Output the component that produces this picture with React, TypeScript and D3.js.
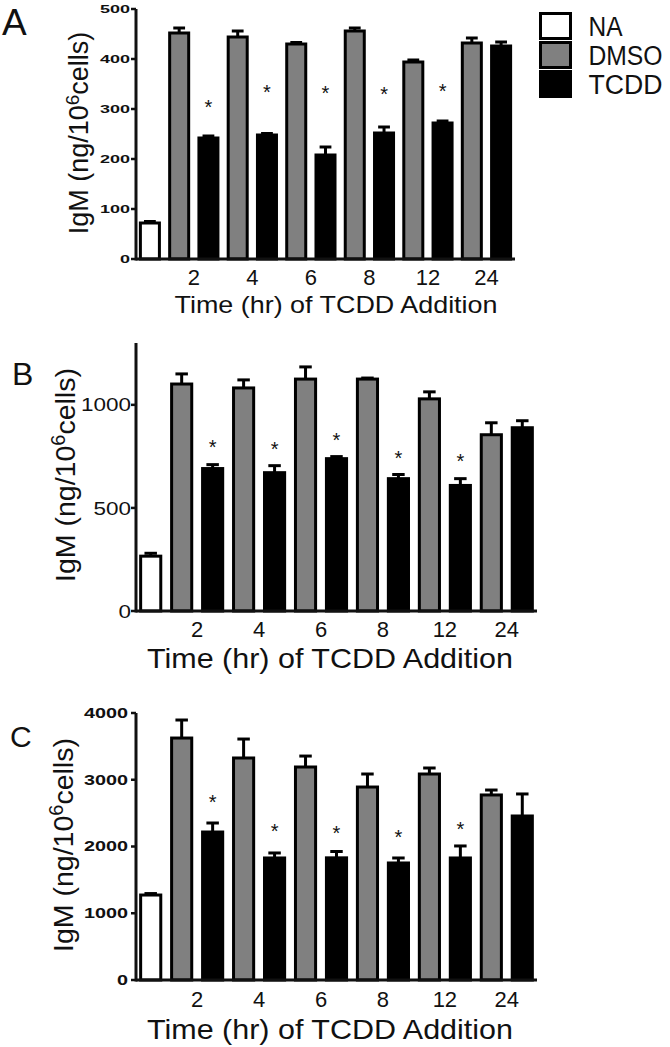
import React from "react";
import * as d3 from "d3";

// values (IgM, ng/10^6 cells)
const timeLabels = ["2", "4", "6", "8", "12", "24"];
const seriesNames = ["NA", "DMSO", "TCDD"];
const seriesFill: Record<string, string> = { NA: "#ffffff", DMSO: "#808080", TCDD: "#000000" };

const naValues = [72, 266, 1273];
const naErrors = [3, 14, 22];

const dmsoA = [452, 444, 430, 456, 394, 432];
const dmsoErrA = [10, 12, 3, 6, 4, 10];
const tcddA = [242, 248, 208, 252, 272, 426];
const tcddErrA = [4, 3, 16, 12, 4, 8];
const starsA = [312, 342, 340, 338, 344];

const dmsoB = [1101, 1082, 1125, 1125, 1029, 855];
const dmsoErrB = [49, 39, 59, 5, 34, 58];
const tcddB = [691, 671, 739, 642, 609, 889];
const tcddErrB = [19, 34, 10, 20, 33, 34];
const starsB = [816, 807, 850, 763, 749];

const dmsoC = [3625, 3326, 3191, 2891, 3086, 2772];
const dmsoErrC = [270, 284, 164, 195, 90, 74];
const tcddC = [2217, 1828, 1830, 1753, 1828, 2457];
const tcddErrC = [135, 75, 95, 75, 180, 330];
const starsC = [2727, 2292, 2262, 2202, 2322];

const yTicksA = [0, 100, 200, 300, 400, 500];
const yTicksB = [0, 500, 1000];
const yTicksC = [0, 1000, 2000, 3000, 4000];

const FONT = "'Liberation Sans', Arial, Helvetica, sans-serif";
const INK = "#111";

function Panel({ cfg, na, naErr, dmso, dmsoErr, tcdd, tcddErr, stars, ticks, yMax }: any) {
  const bars: any[] = [{ s: "NA", v: na, e: naErr }];
  timeLabels.forEach((t, i) => {
    bars.push({ s: "DMSO", v: dmso[i], e: dmsoErr[i], t });
    bars.push({ s: "TCDD", v: tcdd[i], e: tcddErr[i], t });
  });

  const x = d3.scaleBand<number>()
    .domain(d3.range(bars.length))
    .range([cfg.x0, cfg.x1])
    .paddingInner(0.35)
    .paddingOuter(0.15);
  const y = d3.scaleLinear().domain([0, yMax]).range([cfg.y0, cfg.yTop]);
  const bw = x.bandwidth();
  const cx = (i: number) => (x(i) as number) + bw / 2;

  return (
    <g>
      <text x={cfg.letterX} y={cfg.letterY} fontSize={cfg.letterSize} fontFamily={FONT} fill={INK}>
        {cfg.letter}
      </text>

      {/* bars + error bars */}
      {bars.map((b, i) => {
        const capW = bw * 0.62;
        return (
          <g key={i}>
            <rect x={x(i)} y={y(b.v)} width={bw} height={cfg.y0 - y(b.v)}
              fill={seriesFill[b.s]} stroke="#000" strokeWidth={3} />
            <line x1={cx(i)} x2={cx(i)} y1={y(b.v)} y2={y(b.v + b.e)} stroke="#000" strokeWidth={3} />
            <line x1={cx(i) - capW / 2} x2={cx(i) + capW / 2} y1={y(b.v + b.e)} y2={y(b.v + b.e)}
              stroke="#000" strokeWidth={3} />
          </g>
        );
      })}

      {/* significance */}
      {stars.map((s: number, k: number) => (
        <text key={k} x={cx(2 + k * 2)} y={y(s) + 11} textAnchor="middle" fontSize={20}
          fontFamily={FONT} fill={INK}>*</text>
      ))}

      {/* axes */}
      <line x1={cfg.x0} x2={cfg.x0} y1={cfg.y0 + 1.5} y2={cfg.yTop} stroke={INK} strokeWidth={3} />
      <line x1={cfg.x0} x2={cfg.x1} y1={cfg.y0} y2={cfg.y0} stroke={INK} strokeWidth={3} />
      {ticks.map((t: number) => {
        const label = String(t);
        return (
          <g key={t}>
            <line x1={cfg.x0 - 5} x2={cfg.x0} y1={y(t)} y2={y(t)} stroke={INK} strokeWidth={2.5} />
            <text x={cfg.tickLabelX} y={y(t)} dy="0.35em" textAnchor="end" fontSize={cfg.tickFont}
              fontWeight={cfg.tickBold ? "bold" : "normal"} fontFamily={FONT} fill={INK}
              textLength={label.length * cfg.tickDigitW} lengthAdjust="spacingAndGlyphs">
              {label}
            </text>
          </g>
        );
      })}

      {timeLabels.map((t, k) => (
        <text key={t} x={(cx(1 + k * 2) + cx(2 + k * 2)) / 2} y={cfg.xTickY} textAnchor="middle"
          fontSize={cfg.xTickSize} fontFamily={FONT} fill={INK}>{t}</text>
      ))}

      <text x={cfg.xLabelX} y={cfg.xLabelY} textAnchor="middle" fontSize={cfg.xLabelSize}
        fontFamily={FONT} fill={INK} textLength={cfg.xLabelLen} lengthAdjust="spacingAndGlyphs">
        Time (hr) of TCDD Addition
      </text>

      <text transform={`translate(${cfg.yLabelX},${cfg.yLabelY}) rotate(-90)`} textAnchor="middle"
        fontSize={cfg.yLabelSize} fontFamily={FONT} fill={INK}>
        IgM (ng/10<tspan fontSize={cfg.yLabelSize * 0.7} dy={-cfg.yLabelSize * 0.35}>6</tspan>
        <tspan dy={cfg.yLabelSize * 0.35}>cells)</tspan>
      </text>
    </g>
  );
}

const panelA = {
  letter: "A", letterX: 2, letterY: 35, letterSize: 37,
  x0: 136, x1: 515, y0: 259, yTop: 9,
  tickFont: 10, tickBold: true, tickDigitW: 10, tickLabelX: 130,
  xTickY: 285, xTickSize: 22,
  xLabelX: 336, xLabelY: 313, xLabelSize: 24, xLabelLen: 323,
  yLabelX: 88, yLabelY: 133, yLabelSize: 27,
};
const panelB = {
  letter: "B", letterX: 12, letterY: 385, letterSize: 32,
  x0: 136, x1: 537, y0: 611, yTop: 343,
  tickFont: 19, tickBold: false, tickDigitW: 12.5, tickLabelX: 131,
  xTickY: 637, xTickSize: 22,
  xLabelX: 330, xLabelY: 668, xLabelSize: 28, xLabelLen: 366,
  yLabelX: 75, yLabelY: 475, yLabelSize: 28.5,
};
const panelC = {
  letter: "C", letterX: 10, letterY: 747, letterSize: 30,
  x0: 136, x1: 537, y0: 980, yTop: 713,
  tickFont: 14, tickBold: true, tickDigitW: 11, tickLabelX: 128,
  xTickY: 1007, xTickSize: 22,
  xLabelX: 330, xLabelY: 1039, xLabelSize: 28, xLabelLen: 366,
  yLabelX: 73, yLabelY: 845, yLabelSize: 28.5,
};

export default function App() {
  const legendLen: Record<string, number> = { NA: 34, DMSO: 74, TCDD: 74 };
  return (
    <svg width={670} height={1047} style={{ position: "absolute", left: 0, top: 0, background: "#fff" }}>
      <Panel cfg={panelA} na={naValues[0]} naErr={naErrors[0]} dmso={dmsoA} dmsoErr={dmsoErrA}
        tcdd={tcddA} tcddErr={tcddErrA} stars={starsA} ticks={yTicksA} yMax={500} />
      <Panel cfg={panelB} na={naValues[1]} naErr={naErrors[1]} dmso={dmsoB} dmsoErr={dmsoErrB}
        tcdd={tcddB} tcddErr={tcddErrB} stars={starsB} ticks={yTicksB} yMax={1300} />
      <Panel cfg={panelC} na={naValues[2]} naErr={naErrors[2]} dmso={dmsoC} dmsoErr={dmsoErrC}
        tcdd={tcddC} tcddErr={tcddErrC} stars={starsC} ticks={yTicksC} yMax={4000} />

      {/* legend */}
      {seriesNames.map((s, i) => (
        <g key={s} transform={`translate(540.5,${13.5 + i * 29})`}>
          <rect width={30} height={25} fill={seriesFill[s]} stroke="#000" strokeWidth={3} />
          <text x={48} y={22} fontSize={27} fontFamily={FONT} fill={INK}
            textLength={legendLen[s]} lengthAdjust="spacingAndGlyphs">{s}</text>
        </g>
      ))}
    </svg>
  );
}
